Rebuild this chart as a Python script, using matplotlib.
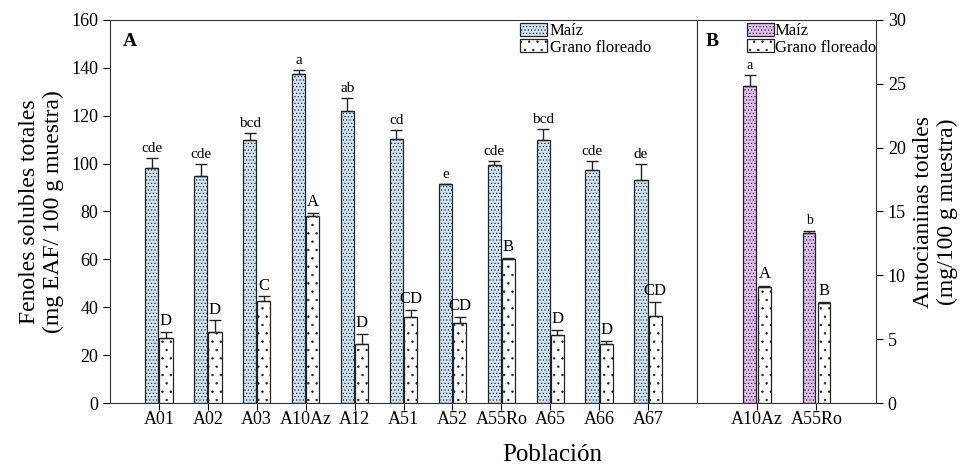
import matplotlib
matplotlib.use("Agg")
import matplotlib.pyplot as plt
import numpy as np

plt.rcParams['font.family'] = ['Liberation Serif', 'DejaVu Serif']
plt.rcParams['hatch.linewidth'] = 0.5

# Panel A data
pops = ['A01', 'A02', 'A03', 'A10Az', 'A12', 'A51', 'A52', 'A55Ro', 'A65', 'A66', 'A67']
maiz = [98.2, 94.7, 109.8, 137.3, 121.8, 110.4, 91.6, 99.3, 109.7, 97.5, 93.0]
maiz_err = [4.3, 5.3, 3.0, 1.7, 5.6, 3.7, 0.0, 1.7, 4.7, 3.5, 6.9]
grano = [27.1, 29.5, 42.5, 78.0, 24.7, 35.8, 33.5, 60.2, 28.2, 24.5, 36.5]
grano_err = [2.5, 5.0, 2.0, 1.5, 4.2, 3.1, 2.3, 0.3, 2.4, 1.6, 5.6]
maiz_letters = ['cde', 'cde', 'bcd', 'a', 'ab', 'cd', 'e', 'cde', 'bcd', 'cde', 'de']
grano_letters = ['D', 'D', 'C', 'A', 'D', 'CD', 'CD', 'B', 'D', 'D', 'CD']

# Panel B data
pops_b = ['A10Az', 'A55Ro']
maiz_b = [24.8, 13.3]
maiz_b_err = [0.9, 0.2]
grano_b = [9.1, 7.8]
grano_b_err = [0.1, 0.1]
maiz_b_letters = ['a', 'b']
grano_b_letters = ['A', 'B']

fig = plt.figure(figsize=(9.65, 4.74), dpi=100)
axA = fig.add_axes([110/965, 71/474, 587/965, 383/474])
axB = fig.add_axes([697/965, 71/474, 179/965, 383/474])

blue = '#cfe6f8'
lav = '#e2bdf2'
edge = '#222222'
w = 0.27
ekw = dict(ecolor='#222222', capsize=4, elinewidth=1, capthick=1)
hatch_m = '.....'
hatch_g = '..'

x = np.arange(1, len(pops) + 1)
axA.bar(x - 0.145, maiz, w, color=blue, edgecolor=edge, hatch=hatch_m, linewidth=0.9, label='Maíz',
        yerr=[np.zeros(len(maiz)), maiz_err], error_kw=ekw)
axA.bar(x + 0.145, grano, w, color='white', edgecolor=edge, hatch=hatch_g, linewidth=0.9, label='Grano floreado',
        yerr=[np.zeros(len(grano)), grano_err], error_kw=ekw)
for i in range(len(pops)):
    axA.text(x[i] - 0.145, maiz[i] + maiz_err[i] + 1.2, maiz_letters[i], ha='center', va='bottom', fontsize=11)
    axA.text(x[i] + 0.145, grano[i] + grano_err[i] + 1.2, grano_letters[i], ha='center', va='bottom', fontsize=12)

axA.set_xlim(0, 12)
axA.set_ylim(0, 160)
axA.set_xticks(x)
axA.set_xticklabels(pops, fontsize=13)
axA.set_yticks(np.arange(0, 161, 20))
axA.tick_params(axis='y', labelsize=13, direction='out', length=5)
axA.tick_params(axis='x', direction='out', length=5, pad=1)
axA.set_ylabel('Fenoles solubles totales\n(mg EAF/ 100 g muestra)', fontsize=17, labelpad=5)
axA.text(0.022, 0.965, 'A', transform=axA.transAxes, fontsize=14, fontweight='bold', va='top')
axA.legend(loc='upper left', bbox_to_anchor=(0.68, 1.02), frameon=False, fontsize=12,
           handlelength=1.6, handleheight=0.8, handletextpad=0.2, labelspacing=0.0, borderaxespad=0.25)
for s in axA.spines.values():
    s.set_color('#333333')

xb = np.arange(1, len(pops_b) + 1)
wb = 0.21
axB.bar(xb - 0.12, maiz_b, wb, color=lav, edgecolor=edge, hatch=hatch_m, linewidth=0.9, label='Maíz',
        yerr=[np.zeros(2), maiz_b_err], error_kw=ekw)
axB.bar(xb + 0.13, grano_b, wb, color='white', edgecolor=edge, hatch=hatch_g, linewidth=0.9, label='Grano floreado',
        yerr=[np.zeros(2), grano_b_err], error_kw=ekw)
for i in range(2):
    axB.text(xb[i] - 0.12, maiz_b[i] + maiz_b_err[i] + 0.25, maiz_b_letters[i], ha='center', va='bottom', fontsize=10)
    axB.text(xb[i] + 0.13, grano_b[i] + grano_b_err[i] + 0.25, grano_b_letters[i], ha='center', va='bottom', fontsize=12)
axB.set_xlim(0, 3)
axB.set_ylim(0, 30)
axB.set_xticks(xb)
axB.set_xticklabels(pops_b, fontsize=13)
axB.yaxis.tick_right()
axB.yaxis.set_label_position('right')
axB.set_yticks(np.arange(0, 31, 5))
axB.tick_params(axis='y', labelsize=13, direction='out', length=5)
axB.tick_params(axis='x', direction='out', length=5, pad=1)
axB.set_ylabel('Antocianinas totales\n(mg/100 g muestra)', fontsize=17, labelpad=5)
axB.text(0.05, 0.965, 'B', transform=axB.transAxes, fontsize=14, fontweight='bold', va='top')
axB.legend(loc='upper left', bbox_to_anchor=(0.22, 1.02), frameon=False, fontsize=12,
           handlelength=1.6, handleheight=0.8, handletextpad=0.05, labelspacing=0.0, borderaxespad=0.25)
for s in axB.spines.values():
    s.set_color('#333333')

fig.text(552/965, 1 - 455/474, 'Población', ha='center', va='center', fontsize=18)

fig.savefig('out.png', dpi=100)
